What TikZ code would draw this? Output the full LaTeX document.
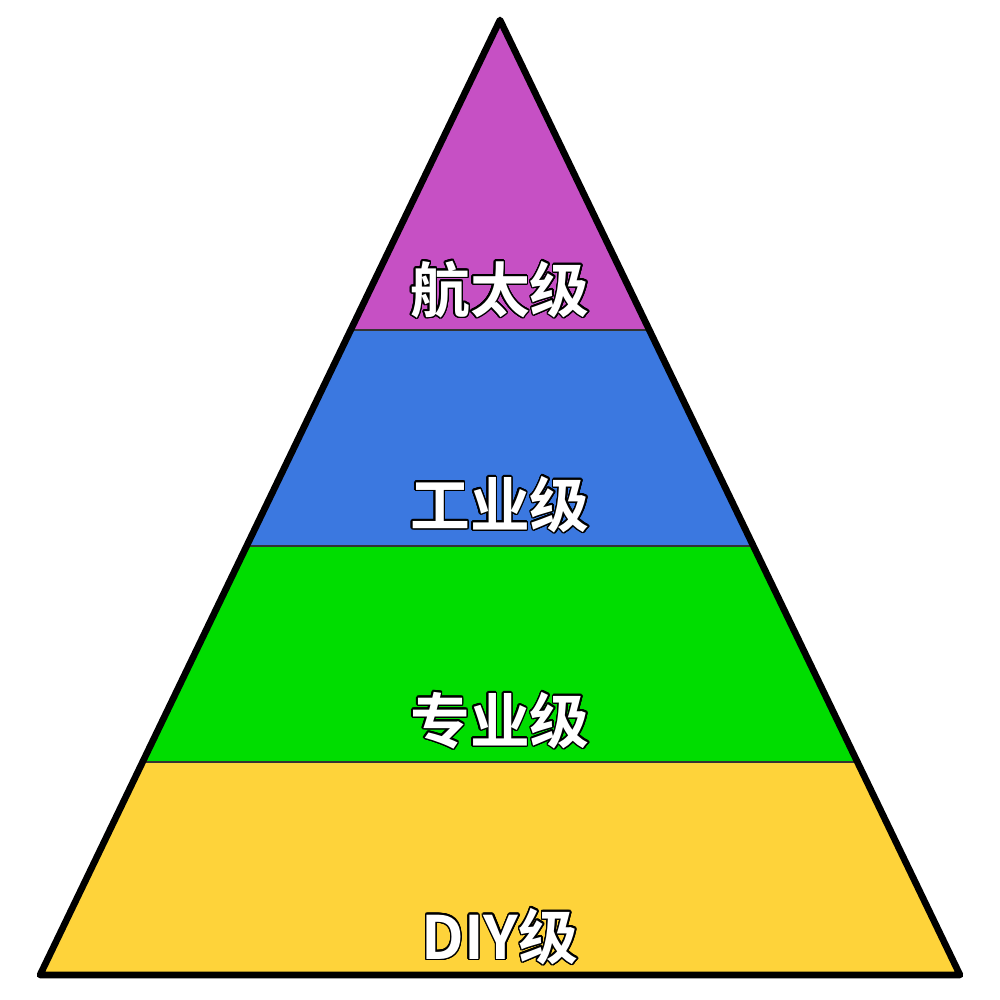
\documentclass[tikz,border=0pt]{standalone}
\usepackage{fontspec}
\usepackage{contour}
\newfontfamily\cjk{Noto Sans CJK SC}[BoldFont={* Bold}]
\usetikzlibrary{calc}
\contourlength{0.4pt}
\contournumber{24}
\definecolor{lvlpurple}{RGB}{198,80,196}
\definecolor{lvlblue}{RGB}{59,120,224}
\definecolor{lvlgreen}{RGB}{0,221,0}
\definecolor{lvlyellow}{RGB}{254,211,58}
\tikzset{
  band/.style={draw=black!80, line width=0.4pt},
  rim/.style={draw=black, line width=1.9pt, line join=round},
  tag/.style={font=\cjk\bfseries\fontsize{17}{20}\selectfont, inner sep=0pt}
}
\newcommand{\lvltext}[1]{\contour{black}{\textcolor{white}{#1}}}
\begin{document}
\begin{tikzpicture}[x=0.01cm, y=-0.01cm]
  \useasboundingbox (0,0) rectangle (1000,1000);
  \coordinate (apex) at (500,20);
  \coordinate (bl) at (40,975);
  \coordinate (br) at (960,975);

  % bands, top to bottom
  \foreach \a/\b/\c [count=\i] in {0/0.3246/lvlpurple, 0.3246/0.5508/lvlblue,
                                   0.5508/0.7770/lvlgreen, 0.7770/1/lvlyellow}{
    \fill[\c] ($(apex)!\a!(bl)$) -- ($(apex)!\b!(bl)$) -- ($(apex)!\b!(br)$)
      -- ($(apex)!\a!(br)$) -- cycle;
  }
  \foreach \t in {0.3246, 0.5508, 0.7770}{
    \draw[band] ($(apex)!\t!(bl)$) -- ($(apex)!\t!(br)$);
  }

  % outline
  \draw[rim] (apex) -- (bl) -- (br) -- cycle;

  % labels
  \node[tag] (l1) at (500,290) {\lvltext{航太级}};
  \node[tag] (l2) at (500,505) {\lvltext{工业级}};
  \node[tag] (l3) at (500,721) {\lvltext{专业级}};
  \node[tag] (l4) at (500,937) {\lvltext{DIY级}};
\end{tikzpicture}
\end{document}
